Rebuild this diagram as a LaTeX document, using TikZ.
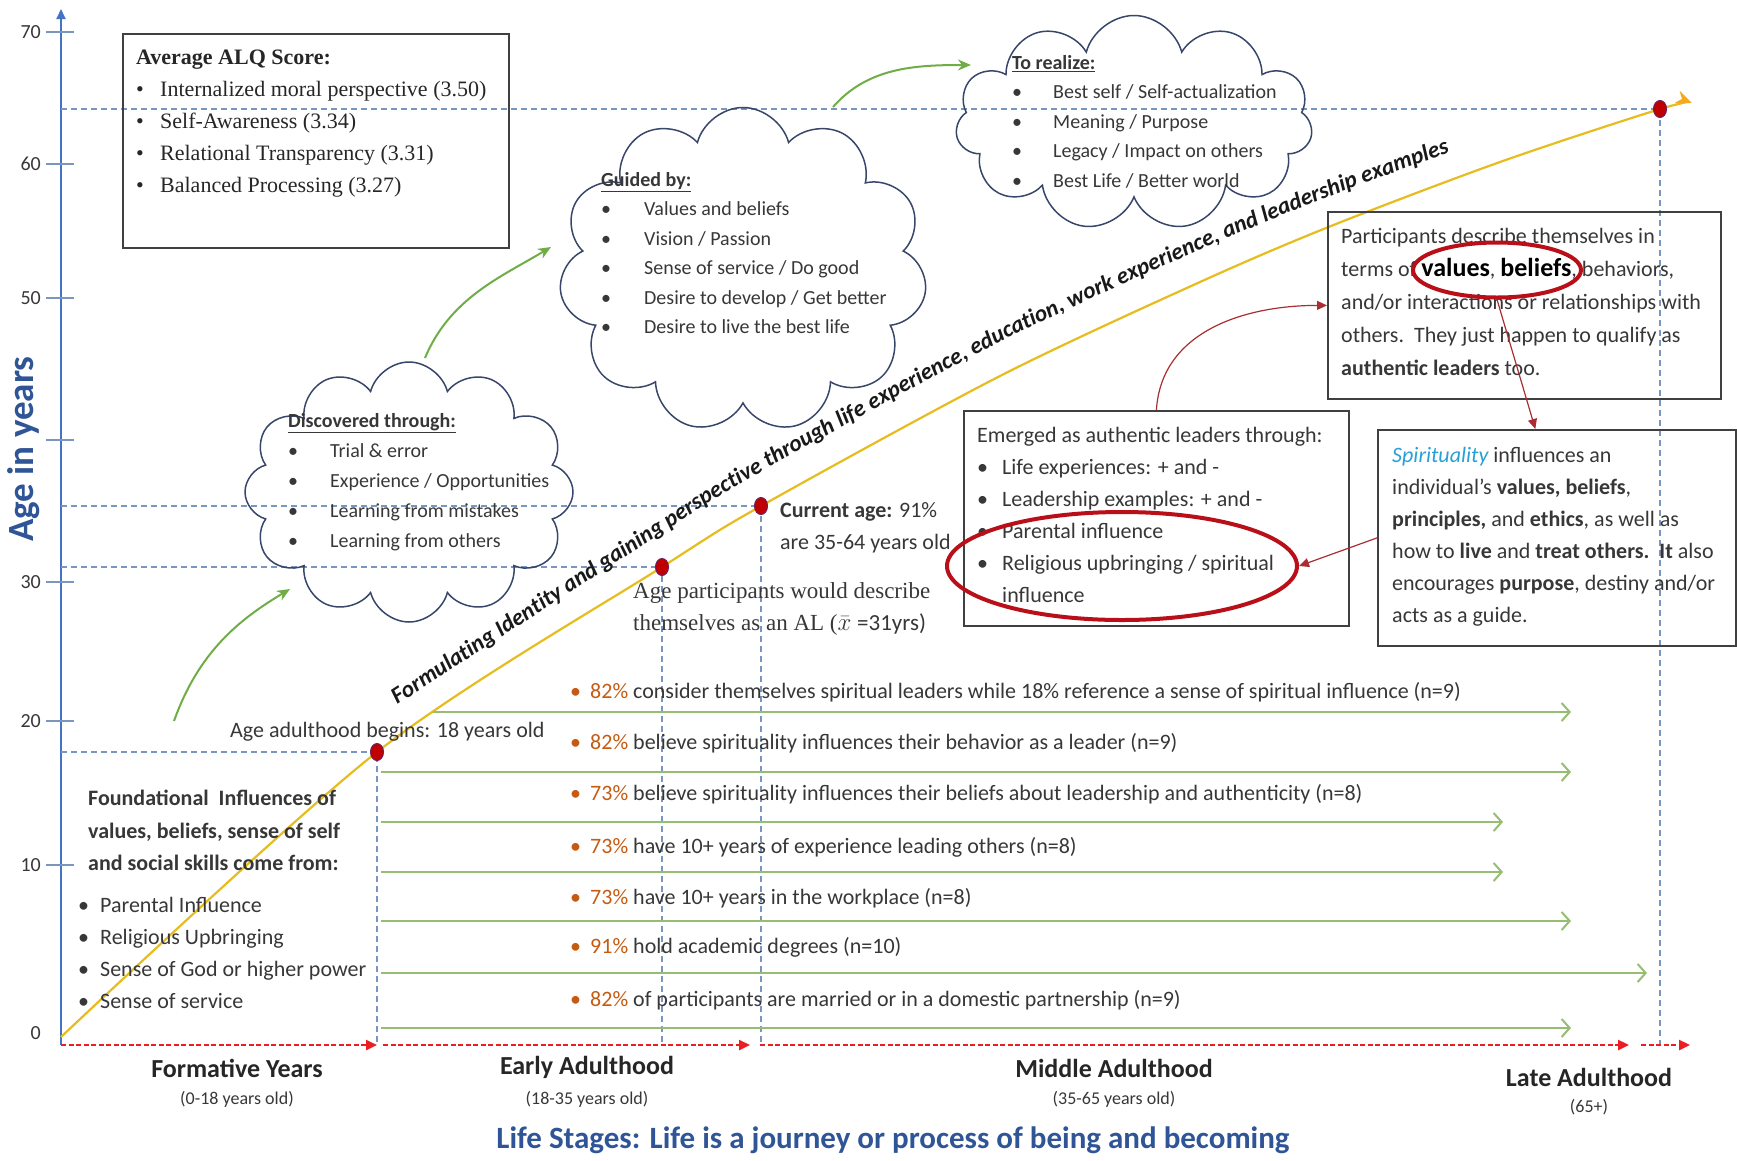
\documentclass[tikz,border=0pt]{standalone}
\usepackage{fontspec}
\setmainfont{Carlito}
\newfontfamily\timesfont{Liberation Serif}
\usepackage{tikz}
\usetikzlibrary{arrows.meta, calc, decorations.text, positioning, shapes.geometric, shapes.symbols}
\usepackage{xcolor}
\definecolor{AxisBlue}{RGB}{68,114,196}
\definecolor{TitleBlue}{RGB}{47,85,151}
\definecolor{GuideBlue}{RGB}{120,150,190}
\definecolor{DotRed}{RGB}{192,0,0}
\definecolor{DotRim}{RGB}{110,30,90}
\definecolor{LineGold}{RGB}{230,188,30}
\definecolor{TipOrange}{RGB}{245,170,30}
\definecolor{GrowGreen}{RGB}{112,173,71}
\definecolor{StatGreen}{RGB}{150,190,115}
\definecolor{StageRed}{RGB}{235,30,35}
\definecolor{CloudLine}{RGB}{55,70,105}
\definecolor{PctOrange}{RGB}{197,90,17}
\definecolor{TextGray}{RGB}{55,55,55}
\definecolor{LinkRed}{RGB}{170,45,50}
\definecolor{RingRed}{RGB}{185,15,25}
\definecolor{SkyBlue}{RGB}{40,160,215}
\newcommand{\dotitem}[2][20pt]{\makebox[#1][l]{\textbullet}#2}
\tikzset{%
  framebox/.style={%
    rectangle,%
    draw=black!75,%
    line width=1.8pt,%
    anchor=north west,%
    inner sep=0pt,%
  },
  thought/.style={%
    cloud,%
    cloud puffs=12,%
    cloud ignores aspect,%
    draw=CloudLine,%
    line width=1.5pt,%
    inner sep=0pt,%
  },
  boxtext/.style={%
    anchor=north west,%
    align=left,%
    inner sep=0pt,%
    text=TextGray,%
    font={\fontsize{22}{32}\selectfont},%
  },
  cloudtext/.style={%
    boxtext,%
    font={\fontsize{20}{29.5}\selectfont},%
  },
  stat/.style={%
    anchor=west,%
    inner sep=0pt,%
    text=TextGray,%
    font={\fontsize{22}{25}\selectfont},%
  },
  stage/.style={%
    inner sep=0pt,%
    text=black!85,%
    font={\fontsize{26}{28}\selectfont\bfseries},%
  },
  stagesub/.style={%
    inner sep=0pt,%
    text=TextGray,%
    font={\fontsize{18}{20}\selectfont},%
  },
  ticklabel/.style={%
    anchor=east,%
    inner sep=0pt,%
    text=TextGray,%
    font={\fontsize{20}{22}\selectfont},%
  },
  agedot/.style={%
    ellipse,%
    fill=DotRed,%
    draw=DotRim,%
    line width=1pt,%
    minimum width=13pt,%
    minimum height=17pt,%
    inner sep=0pt,%
  },
  ring/.style={%
    ellipse,%
    draw=RingRed,%
    line width=4pt,%
    inner sep=0pt,%
  },
  guide/.style={%
    color=GuideBlue,%
    line width=1.5pt,%
    dash pattern=on 6pt off 4pt,%
  },
  axisline/.style={%
    color=AxisBlue,%
    line width=2pt,%
  },
  axistick/.style={%
    color=GuideBlue,%
    line width=1.3pt,%
  },
  lifeline/.style={%
    color=LineGold,%
    line width=2.2pt,%
    -{Stealth[length=16pt, width=13pt, color=TipOrange]},%
  },
  stageline/.style={%
    color=StageRed,%
    line width=2.4pt,%
    dash pattern=on 5pt off 2.5pt,%
    -{Triangle[length=11pt, width=10pt]},%
  },
  statarrow/.style={%
    color=StatGreen,%
    line width=2.4pt,%
    -{Straight Barb[length=8pt, width=18pt, line width=2pt]},%
  },
  growth/.style={%
    color=GrowGreen,%
    line width=2pt,%
    -{Stealth[length=13pt, width=11pt]},%
  },
  link/.style={%
    color=LinkRed,%
    line width=1.2pt,%
    -{Triangle[length=10pt, width=9pt]},%
  },
}

\begin{document}
\begin{tikzpicture}[x=1pt, y=-1pt]
  \useasboundingbox (0,0) rectangle (1737,1160);

  % age axis
  \coordinate (O) at (61,1045);
  \coordinate (Top) at (61,9);
  \draw [axisline, -{Triangle[length=10pt, width=9pt]}] (O) -- (Top);
  \draw [axistick] (46,32) -- (74,32);
  \draw [axistick] (46,164) -- (74,164);
  \draw [axistick] (46,298) -- (74,298);
  \draw [axistick] (46,440) -- (74,440);
  \draw [axistick] (46,582) -- (74,582);
  \draw [axistick] (46,721) -- (74,721);
  \draw [axistick] (46,865) -- (74,865);
  \node [ticklabel] (t70) at (41,32) {70};
  \node [ticklabel] (t60) at (41,164) {60};
  \node [ticklabel] (t50) at (41,298) {50};
  \node [ticklabel] (t30) at (41,582) {30};
  \node [ticklabel] (t20) at (41,721) {20};
  \node [ticklabel] (t10) at (41,865) {10};
  \node [ticklabel] (t0) at (41,1033) {0};
  \node [rotate=90, text=TitleBlue, font={\fontsize{37}{37}\selectfont\bfseries}]
    (AgeLabel) at (24,449) {Age in years};

  % ages on the journey
  \coordinate (p18) at (377,752);
  \coordinate (p31) at (662,567);
  \coordinate (p35) at (761,506);
  \coordinate (p64) at (1660,109);
  \draw [guide] (O |- p18) -- (p18) -- (p18 |- O);
  \draw [guide] (O |- p31) -- (p31) -- (p31 |- O);
  \draw [guide] (O |- p35) -- (p35) -- (p35 |- O);
  \draw [guide] (O |- p64) -- (p64) -- (p64 |- O);

  \draw [lifeline] plot [smooth, tension=0.5] coordinates
    {(61,1037) (p18) (p31) (p35) (1000,376) (1200,282) (1331,226) (1500,162) (p64) (1692,103)};
  \path [decorate, decoration={text along path, text color=black!90,
      text align={left indent=24pt},
      text={|\fontsize{23.3}{23.3}\selectfont\bfseries\itshape|Formulating Identity and gaining perspective through life experience, education, work experience, and leadership examples}}]
    plot [smooth, tension=0.5] coordinates
    {(377,718) (662,533) (761,472) (1000,342) (1200,250) (1331,196) (1500,134) (1640,84)};

  \node [agedot] (d18) at (p18) {};
  \node [agedot] (d31) at (p31) {};
  \node [agedot] (d35) at (p35) {};
  \node [agedot] (d64) at (p64) {};

  \node [stat] (Adult) at (230,732) {Age adulthood begins: 18 years old};
  \node [boxtext] (CurrentAge) at (780,502) {\textbf{Current age:} 91\%\\ are 35-64 years old};
  \node [boxtext, font={\timesfont\fontsize{23}{32}\selectfont}] (ALAge) at (633,582)
    {Age participants would describe\\ themselves as an AL ($\bar{x}$ {\normalfont =31yrs)}};

  % life stages
  \draw [stageline] (O) -- (377,1045);
  \draw [stageline] (383,1045) -- (750,1045);
  \draw [stageline] (760,1045) -- (1629,1045);
  \draw [stageline] (1641,1045) -- (1690,1045);
  \node [stage] (Formative) at (237,1068) {Formative Years};
  \node [stagesub, below=14pt of Formative] (FormativeAge) {(0-18 years old)};
  \node [stage] (Early) at (587,1067) {Early Adulthood};
  \node [stagesub, below=13pt of Early] (EarlyAge) {(18-35 years old)};
  \node [stage] (Middle) at (1114,1068) {Middle Adulthood};
  \node [stagesub, below=14pt of Middle] (MiddleAge) {(35-65 years old)};
  \node [stage] (Late) at (1589,1077) {Late Adulthood};
  \node [stagesub, below=13pt of Late] (LateAge) {(65+)};
  \node [text=TitleBlue, font={\fontsize{31}{33}\selectfont\bfseries}] (Journey) at (893,1140)
    {Life Stages: Life is a journey or process of being and becoming};

  % foundational influences
  \node [boxtext, font={\fontsize{22}{32.5}\selectfont\bfseries}] (FoundTitle) at (88,790)
    {Foundational\ \ Influences of\\ values, beliefs, sense of self\\ and social skills come from:};
  \node [boxtext] (FoundList) at (78,897)
    {\dotitem[22pt]{Parental Influence}\\
     \dotitem[22pt]{Religious Upbringing}\\
     \dotitem[22pt]{Sense of God or higher power}\\
     \dotitem[22pt]{Sense of service}};

  % findings
  \node [stat] (S1) at (570,692) {{\color{PctOrange}\dotitem{82\%}} consider themselves spiritual leaders while 18\% reference a sense of spiritual influence (n=9)};
  \node [stat] (S2) at (570,743) {{\color{PctOrange}\dotitem{82\%}} believe spirituality influences their behavior as a leader (n=9)};
  \node [stat] (S3) at (570,794) {{\color{PctOrange}\dotitem{73\%}} believe spirituality influences their beliefs about leadership and authenticity (n=8)};
  \node [stat] (S4) at (570,847) {{\color{PctOrange}\dotitem{73\%}} have 10+ years of experience leading others (n=8)};
  \node [stat] (S5) at (570,898) {{\color{PctOrange}\dotitem{73\%}} have 10+ years in the workplace (n=8)};
  \node [stat] (S6) at (570,947) {{\color{PctOrange}\dotitem{91\%}} hold academic degrees (n=10)};
  \node [stat] (S7) at (570,1000) {{\color{PctOrange}\dotitem{82\%}} of participants are married or in a domestic partnership (n=9)};
  \draw [statarrow] (433,712) -- (1571,712);
  \draw [statarrow] (381,772) -- (1571,772);
  \draw [statarrow] (381,822) -- (1503,822);
  \draw [statarrow] (381,872) -- (1503,872);
  \draw [statarrow] (381,921) -- (1571,921);
  \draw [statarrow] (381,973) -- (1647,973);
  \draw [statarrow] (381,1028) -- (1571,1028);

  % ALQ scores
  \node [framebox, minimum width=386pt, minimum height=214pt] (ALQ) at (122,33) {};
  \node [boxtext, text=black!85, font={\timesfont\fontsize{22}{32}\selectfont}] (ALQText) at (136,50)
    {\textbf{Average ALQ Score:}\\
     \dotitem[24pt]{Internalized moral perspective (3.50)}\\
     \dotitem[24pt]{Self-Awareness (3.34)}\\
     \dotitem[24pt]{Relational Transparency (3.31)}\\
     \dotitem[24pt]{Balanced Processing (3.27)}};

  % clouds
  \node [thought, minimum width=328pt, minimum height=260pt] (DiscoverCloud) at (409,492) {};
  \node [cloudtext, font={\fontsize{20}{30}\selectfont}] (DiscoverText) at (288,413)
    {\underline{\textbf{Discovered through:}}\\
     \dotitem[42pt]{Trial \& error}\\
     \dotitem[42pt]{Experience / Opportunities}\\
     \dotitem[42pt]{Learning from mistakes}\\
     \dotitem[42pt]{Learning from others}};
  \node [thought, cloud puffs=11, minimum width=368pt, minimum height=325pt] (GuideCloud) at (743,270) {};
  \node [cloudtext] (GuideText) at (601,172)
    {\underline{\textbf{Guided by:}}\\
     \dotitem[43pt]{Values and beliefs}\\
     \dotitem[43pt]{Vision / Passion}\\
     \dotitem[43pt]{Sense of service / Do good}\\
     \dotitem[43pt]{Desire to develop / Get better}\\
     \dotitem[43pt]{Desire to live the best life}};
  \node [thought, cloud puffs=11, minimum width=357pt, minimum height=215pt] (RealizeCloud) at (1134,123) {};
  \node [cloudtext] (RealizeText) at (1012,55)
    {\underline{\textbf{To realize:}}\\
     \dotitem[41pt]{Best self / Self-actualization}\\
     \dotitem[41pt]{Meaning / Purpose}\\
     \dotitem[41pt]{Legacy / Impact on others}\\
     \dotitem[41pt]{Best Life / Better world}};
  \draw [growth] (174,721) .. controls +(25,-70) and +(-50,30) .. (290,589);
  \draw [growth] (425,358) .. controls +(25,-60) and +(-50,30) .. (551,247);
  \draw [growth] (833,107) .. controls +(35,-40) and +(-55,0) .. (971,65);

  % how they emerged
  \node [framebox, minimum width=385pt, minimum height=215pt] (Emerged) at (963,410) {};
  \node [boxtext] (EmergedText) at (977,427)
    {Emerged as authentic leaders through:\\
     \dotitem[25pt]{Life experiences: + and -}\\
     \dotitem[25pt]{Leadership examples: + and -}\\
     \dotitem[25pt]{Parental influence}\\
     \dotitem[25pt]{Religious upbringing / spiritual}\\
     \makebox[25pt]{}influence};
  \node [framebox, minimum width=393pt, minimum height=187pt] (Participants) at (1327,211) {};
  \node [boxtext, font={\fontsize{22}{33}\selectfont}] (ParticipantsText) at (1341,228)
    {Participants describe themselves in\\
     terms of {\fontsize{26}{33}\selectfont\bfseries\color{black}values}, {\fontsize{26}{33}\selectfont\bfseries\color{black}beliefs}, behaviors,\\
     and/or interactions or relationships with\\
     others.\ \ They just happen to qualify as\\
     \textbf{authentic leaders} too.};
  \node [framebox, minimum width=358pt, minimum height=216pt] (Spirit) at (1377,429) {};
  \node [boxtext] (SpiritText) at (1392,447)
    {{\color{SkyBlue}\itshape Spirituality} influences an\\
     individual’s \textbf{values, beliefs},\\
     \textbf{principles,} and \textbf{ethics}, as well as\\
     how to \textbf{live} and \textbf{treat others.}\ \ \textbf{It} also\\
     encourages \textbf{purpose}, destiny and/or\\
     acts as a guide.};

  \node [ring, minimum width=350pt, minimum height=108pt] (EmRing) at (1122,566) {};
  \node [ring, minimum width=168pt, minimum height=55pt] (ValRing) at (1497,270) {};
  \draw [link] (Emerged.north) .. controls +(5,-80) and +(-80,0) .. (Participants.west);
  \draw [link] (ValRing.south) -- ($(Spirit.north west)!0.44!(Spirit.north east)$);
  \draw [link] (Spirit.west) -- (EmRing.east);
\end{tikzpicture}
\end{document}
